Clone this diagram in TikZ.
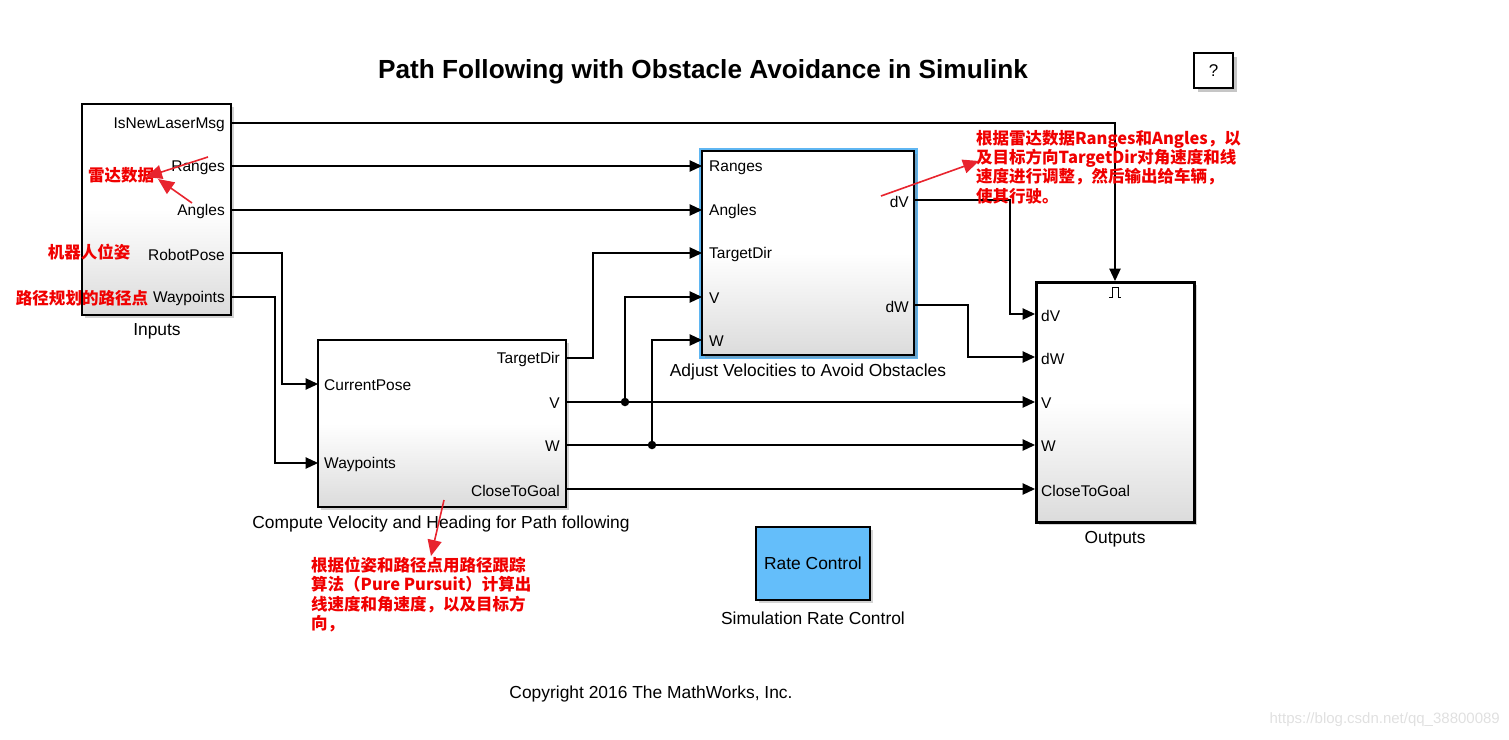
\documentclass[tikz,border=0pt]{standalone}
\usepackage{fontspec}
\setmainfont{Liberation Sans}
\newfontfamily\cjk{Noto Sans CJK SC}
\usetikzlibrary{arrows.meta,shadows}
\definecolor{hl}{RGB}{95,182,242}
\definecolor{rc}{RGB}{100,190,250}
\definecolor{anno}{RGB}{240,0,0}
\definecolor{annoarrow}{RGB}{232,36,46}
\begin{document}
\begin{tikzpicture}[x=1pt,y=-1pt,
  blk/.style={draw=black, line width=1.2pt, top color=white, bottom color=black!14, middle color=white, inner sep=0pt, outer sep=0pt,
    drop shadow={shadow xshift=2.5pt,shadow yshift=-2.5pt,opacity=0.35}},
  port/.style={font=\fontsize{15.5}{18}\selectfont, inner sep=0pt, yshift=-1.5pt},
  blkcap/.style={font=\fontsize{17.4}{20}\selectfont, inner sep=0pt, yshift=-1.5pt},
  wire/.style={line width=1.1pt, line join=miter},
  sig/.style={wire, -{Triangle[length=12.5pt,width=11.5pt]}},
  jdot/.style={circle, fill=black, inner sep=0pt, minimum size=8.5pt},
  anno/.style={text=anno, font=\cjk\bfseries\fontsize{16.5}{19.3}\selectfont, inner sep=0pt, align=left},
  aarrow/.style={draw=annoarrow, line width=1.6pt, -{Triangle[length=16pt,width=14pt]}}
]
\useasboundingbox (0,0) rectangle (1509,739);

% title
\node[font=\bfseries\fontsize{26.2}{30}\selectfont] (title) at (703,71.5) {Path Following with Obstacle Avoidance in Simulink};

% help box
\node[draw=black, line width=1.2pt, fill=white, minimum width=39pt, minimum height=35pt, inner sep=0pt,
  drop shadow={shadow xshift=4pt,shadow yshift=-4pt,opacity=0.45}, font=\fontsize{17}{20}\selectfont] (help) at (1213.5,70.5) {?};

% blocks
\node[blk, minimum width=149pt, minimum height=211pt] (inputs) at (156.5,209.5) {};
\node[blkcap] (inputscap) at (157,330) {Inputs};

\node[blk, minimum width=248pt, minimum height=167pt] (compute) at (442,423.5) {};
\node[blkcap] (computecap) at (441,522) {Compute Velocity and Heading for Path following};

\node[draw=hl, line width=7pt, minimum width=212pt, minimum height=204pt, inner sep=0pt, outer sep=0pt] (adjhl) at (808,253) {};
\node[blk, minimum width=212pt, minimum height=204pt] (adjust) at (808,253) {};
\node[blkcap] (adjustcap) at (808,370) {Adjust Velocities to Avoid Obstacles};

\node[blk, line width=3pt, minimum width=158pt, minimum height=240pt] (outputs) at (1115,402) {};
\node[blkcap] (outputscap) at (1115,538) {Outputs};

\node[draw=black, line width=1.2pt, fill=rc, minimum width=114pt, minimum height=73pt, inner sep=0pt,
  drop shadow={shadow xshift=2.5pt,shadow yshift=-2.5pt,opacity=0.35}, font=\fontsize{17.4}{20}\selectfont] (rate) at (813,563.5) {Rate Control};
\node[blkcap] (ratecap) at (813,617) {Simulation Rate Control};

% port labels: Inputs
\node[port, anchor=east] (pIsNew) at (225,123) {IsNewLaserMsg};
\node[port, anchor=east] (pRanges) at (225,166) {Ranges};
\node[port, anchor=east] (pAngles) at (225,210) {Angles};
\node[port, anchor=east] (pRobot) at (225,253) {RobotPose};
\node[port, anchor=east] (pWay) at (225,297) {Waypoints};
% Compute
\node[port, anchor=west] (cCur) at (324,384) {CurrentPose};
\node[port, anchor=west] (cWay) at (324,463) {Waypoints};
\node[port, anchor=east] (cTD) at (560,358) {TargetDir};
\node[port, anchor=east] (cV) at (560,402) {V};
\node[port, anchor=east] (cW) at (560,445) {W};
\node[port, anchor=east] (cCG) at (560,489) {CloseToGoal};
% Adjust
\node[port, anchor=west] (aR) at (709,166) {Ranges};
\node[port, anchor=west] (aA) at (709,210) {Angles};
\node[port, anchor=west] (aT) at (709,253) {TargetDir};
\node[port, anchor=west] (aV) at (709,297) {V};
\node[port, anchor=west] (aW) at (709,340) {W};
\node[port, anchor=east] (adV) at (909,200) {dV};
\node[port, anchor=east] (adW) at (909,305) {dW};
% Outputs
\node[port, anchor=west] (odV) at (1041,314) {dV};
\node[port, anchor=west] (odW) at (1041,357) {dW};
\node[port, anchor=west] (oV) at (1041,402) {V};
\node[port, anchor=west] (oW) at (1041,445) {W};
\node[port, anchor=west] (oCG) at (1041,489) {CloseToGoal};
% trigger symbol
\draw[line width=1pt] (1109,297.5) -- (1112,297.5) -- (1112,287.5) -- (1118,287.5) -- (1118,297.5) -- (1121,297.5);

% port coordinates
\coordinate (o1) at (231,123);
\coordinate (o2) at (231,166);
\coordinate (o3) at (231,210);
\coordinate (o4) at (231,253);
\coordinate (o5) at (231,297);
\coordinate (ci1) at (318,384);
\coordinate (ci2) at (318,463);
\coordinate (co1) at (566,358);
\coordinate (co2) at (566,402);
\coordinate (co3) at (566,445);
\coordinate (co4) at (566,489);
\coordinate (ai1) at (702,166);
\coordinate (ai2) at (702,210);
\coordinate (ai3) at (702,253);
\coordinate (ai4) at (702,297);
\coordinate (ai5) at (702,340);
\coordinate (ao1) at (914,200);
\coordinate (ao2) at (914,305);
\coordinate (oi1) at (1035,314);
\coordinate (oi2) at (1035,357);
\coordinate (oi3) at (1035,402);
\coordinate (oi4) at (1035,445);
\coordinate (oi5) at (1035,489);
\coordinate (otrig) at (1115,281);

% junctions
\node[jdot] (jV) at (625,402) {};
\node[jdot] (jW) at (652,445) {};

% wires
\draw[sig] (o1) -| (otrig);
\draw[sig] (o2) -- (ai1);
\draw[sig] (o3) -- (ai2);
\draw[sig] (o4) -- (282,253) |- (ci1);
\draw[sig] (o5) -- (275,297) |- (ci2);
\draw[sig] (co1) -- (593,358) |- (ai3);
\draw[sig] (co2) -- (oi3);
\draw[sig] (jV.center) |- (ai4);
\draw[sig] (co3) -- (oi4);
\draw[sig] (jW.center) |- (ai5);
\draw[sig] (co4) -- (oi5);
\draw[sig] (ao1) -- (1010,200) |- (oi1);
\draw[sig] (ao2) -- (968,305) |- (oi2);

% annotations
\node[anno] (aRadar) at (121,175) {雷达数据};
\node[anno] (aPose) at (89,252) {机器人位姿};
\node[anno] (aWay) at (82,298) {路径规划的路径点};
\coordinate (ar1s) at (208,157);
\coordinate (ar1e) at (146,177);
\coordinate (ar2s) at (192,203);
\coordinate (ar2e) at (158,179);
\draw[aarrow] (ar1s) -- (ar1e);
\draw[aarrow] (ar2s) -- (ar2e);

\node[anno, anchor=north west] (aAdj) at (976,130) {根据雷达数据Ranges和Angles，以\\及目标方向TargetDir对角速度和线\\速度进行调整，然后输出给车辆，\\使其行驶。};
\coordinate (ar3s) at (881,196);
\coordinate (ar3e) at (979,161);
\draw[aarrow] (ar3s) -- (ar3e);

\node[anno, anchor=north west] (aPP) at (311,557) {根据位姿和路径点用路径跟踪\\算法（Pure Pursuit）计算出\\线速度和角速度，以及目标方\\向，};
\coordinate (ar4s) at (444,500);
\coordinate (ar4e) at (431,556);
\draw[aarrow] (ar4s) -- (ar4e);

% footer
\node[blkcap] (copy) at (651,692) {Copyright 2016 The MathWorks, Inc.};
\node[font=\fontsize{15}{18}\selectfont, text=black!12, anchor=east, inner sep=0pt] (wm) at (1500,720) {https://blog.csdn.net/qq\_38800089};
\end{tikzpicture}
\end{document}
